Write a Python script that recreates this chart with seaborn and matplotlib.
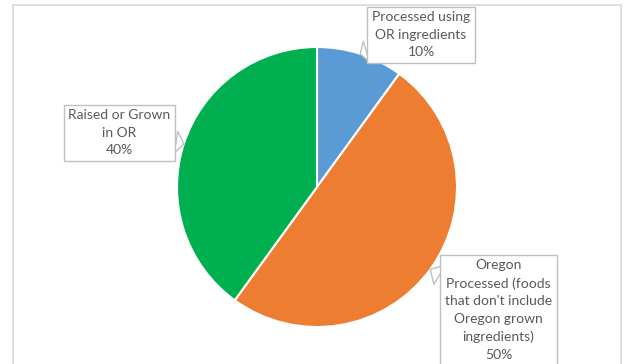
import numpy as np
import matplotlib
matplotlib.use("Agg")
import matplotlib.pyplot as plt
from matplotlib.patches import Rectangle
import seaborn as sns

labels = ["Processed using\nOR ingredients\n10%",
          "Oregon\nProcessed (foods\nthat don't include\nOregon grown\ningredients)\n50%",
          "Raised or Grown\nin OR\n40%"]
values = [10, 50, 40]
colors = ["#5B9BD5", "#ED7D31", "#00B050"]

sns.set_theme(style="white")
plt.rcParams['font.family'] = ['Lato', 'DejaVu Sans']

W, H = 627, 364
fig = plt.figure(figsize=(W / 100, H / 100), dpi=100)
fig.patch.set_facecolor("white")

# outer chart border
fig.add_artist(Rectangle((13 / W, -0.1), (621 - 13) / W, 1.1 - 5 / H,
                         transform=fig.transFigure, fill=False,
                         edgecolor="#d9d9d9", lw=1.2))

cx, cy, r = 317, 187, 140
ax = fig.add_axes([0, 0, 1, 1])
ax.axis("off")

wedges, _ = ax.pie(values, colors=colors, startangle=90, counterclock=False,
                   radius=1, center=(0, 0),
                   wedgeprops=dict(edgecolor="white", linewidth=1.5))
ax.set_xlim(-cx / r, (W - cx) / r)
ax.set_ylim(-(H - cy) / r, cy / r)
ax.set_aspect("equal")

# label box centres (px)
box_px = [(421, 35), (498.5, 310), (119.5, 133)]
for w, lab, (bx, by) in zip(wedges, labels, box_px):
    mid = np.deg2rad((w.theta1 + w.theta2) / 2)
    tip = (np.cos(mid), np.sin(mid))
    ax.annotate(lab, xy=tip, xytext=((bx - cx) / r, (cy - by) / r),
                ha="center", va="center", fontsize=10, color="#595959",
                linespacing=1.55,
                bbox=dict(boxstyle="square,pad=0.35", fc="white",
                          ec="#bfbfbf", lw=1),
                arrowprops=dict(arrowstyle="wedge,tail_width=1.6,shrink_factor=0.5",
                                fc="white", ec="#bfbfbf", lw=1,
                                shrinkA=0, shrinkB=0))

fig.savefig("out.png", dpi=100, facecolor="white")
